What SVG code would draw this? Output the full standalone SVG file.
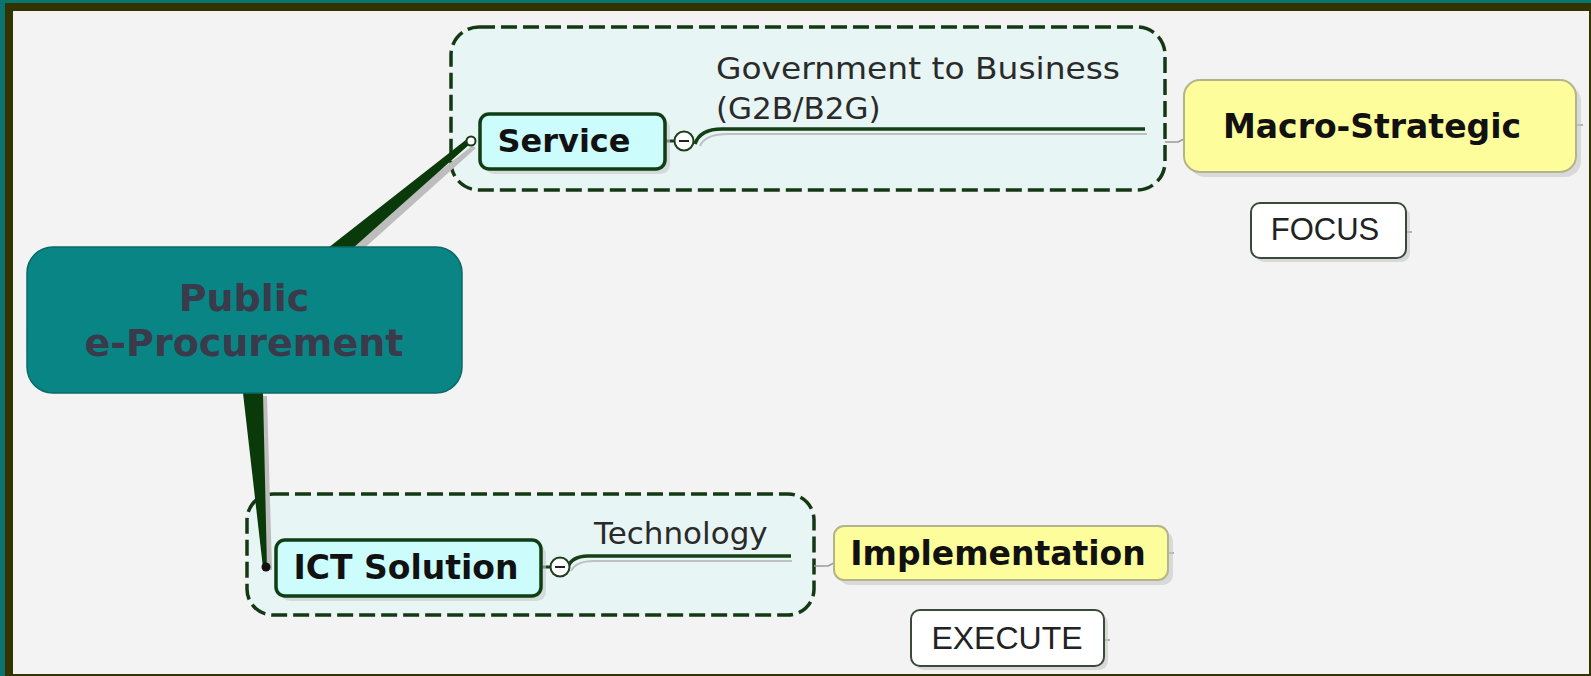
<svg xmlns="http://www.w3.org/2000/svg" width="1591" height="676" viewBox="0 0 1591 676">
<style>
.bold{font-family:"DejaVu Sans",Verdana,sans-serif;font-weight:bold;fill:#111111}
.reg{font-family:"DejaVu Sans",Verdana,sans-serif;fill:#2a2a2a}
.ar{font-family:"Liberation Sans",Arial,sans-serif;fill:#222222}
.grp{fill:#e7f5f5;stroke:#143814;stroke-width:3.5;stroke-dasharray:16 6}
.topic{fill:#ccfcfc;stroke:#0f3d14;stroke-width:3.5}
.yel{fill:#fdfd9b;stroke:#b4b48c;stroke-width:2}
.wh{fill:#ffffff;stroke:#3a4a3a;stroke-width:2}
.shadow{fill:#c8c8c8;opacity:0.6}
.thin{fill:none;stroke:#9a9a9a;stroke-width:1.5}
.branch{fill:none;stroke:#154015;stroke-width:3.5}
.bshadow{fill:none;stroke:#c0c0c0;stroke-width:2}
.minus{fill:#ffffff;stroke:#1e3e1e;stroke-width:2}
</style>
<rect x="0" y="0" width="1591" height="676" fill="#0a7470"/>
<rect x="5" y="3" width="1586" height="673" fill="#333300"/>
<rect x="13" y="11" width="1576" height="663" fill="#f3f3f3"/>

<g id="group-service">
<rect class="grp" x="451" y="27" width="714" height="163" rx="28"/>
</g>
<g id="group-ict">
<rect class="grp" x="247" y="494" width="567" height="121" rx="26"/>
</g>

<g id="connectors">
<polygon points="334,252 360,252 476,148 472,146" fill="#bdbdbd"/>
<polygon points="328,248 353,248 471,143 467,139" fill="#0a3a0a"/>
<polygon points="248,396 267,396 272,570 268,570" fill="#bdbdbd"/>
<polygon points="243,393 263,393 267,568 263,568" fill="#0a3a0a"/>
<circle cx="471" cy="141" r="4.5" fill="#ffffff" stroke="#1a3a1a" stroke-width="2"/>
<circle cx="266" cy="567" r="4.5" fill="#111111"/>
<line x1="665" y1="141" x2="674" y2="141" stroke="#1e3e1e" stroke-width="3"/>
<path class="bshadow" d="M700,146 Q705,134 728,134 L1147,134"/>
<path class="branch" d="M695,144 Q700,129 722,129 L1145,129"/>
<line x1="541" y1="567" x2="550" y2="567" stroke="#1e3e1e" stroke-width="3"/>
<path class="bshadow" d="M571,571 Q576,561 594,561 L792,561"/>
<path class="branch" d="M567,569 Q571,556 588,556 L791,556"/>
<path class="thin" d="M1165,142 L1178,142 L1184,139"/>
<path class="thin" d="M814,566 L828,566 L834,563"/>
<path class="thin" d="M1576,125 L1583,125"/>
<path class="thin" d="M1406,232 L1412,232"/>
<path class="thin" d="M1104,640 L1110,640"/>
<path class="thin" d="M1168,553 L1174,553"/>
</g>

<g id="node-public">
<rect x="27" y="247" width="435" height="146" rx="26" fill="#098585" stroke="#0a6a66" stroke-width="1.5"/>
<text class="bold" x="244" y="311" font-size="38" text-anchor="middle" style="fill:#3a3a4a">Public</text>
<text class="bold" x="244" y="356" font-size="38" text-anchor="middle" style="fill:#3a3a4a">e-Procurement</text>
</g>

<g id="node-service">
<rect class="shadow" x="485" y="119" width="185" height="55" rx="9"/>
<rect class="topic" x="480" y="114" width="185" height="55" rx="9"/>
<text class="bold" x="564" y="152" font-size="32" text-anchor="middle">Service</text>
<circle class="minus" cx="684" cy="141" r="9.5"/>
<line x1="679" y1="141" x2="689" y2="141" stroke="#222" stroke-width="2"/>
</g>

<g id="node-g2b">
<text class="reg" x="716" y="79" font-size="31" textLength="404" lengthAdjust="spacingAndGlyphs">Government to Business</text>
<text class="reg" x="716" y="119" font-size="31">(G2B/B2G)</text>
</g>

<g id="node-macro">
<rect class="shadow" x="1189" y="85" width="392" height="92" rx="16"/>
<rect class="yel" x="1184" y="80" width="392" height="92" rx="16"/>
<text class="bold" x="1372" y="138" font-size="33" text-anchor="middle">Macro-Strategic</text>
</g>

<g id="node-focus">
<rect class="shadow" x="1255" y="207" width="155" height="55" rx="9"/>
<rect class="wh" x="1251" y="203" width="155" height="55" rx="9"/>
<text class="ar" x="1325" y="240" font-size="31" text-anchor="middle">FOCUS</text>
</g>

<g id="node-ict">
<rect class="shadow" x="281" y="545" width="265" height="56" rx="9"/>
<rect class="topic" x="276" y="540" width="265" height="56" rx="9"/>
<text class="bold" x="406" y="579" font-size="33" text-anchor="middle">ICT Solution</text>
<circle class="minus" cx="560" cy="567" r="9.5"/>
<line x1="555" y1="567" x2="565" y2="567" stroke="#222" stroke-width="2"/>
</g>

<g id="node-technology">
<text class="reg" x="594" y="544" font-size="31">Technology</text>
</g>

<g id="node-implementation">
<rect class="shadow" x="839" y="531" width="334" height="54" rx="10"/>
<rect class="yel" x="834" y="526" width="334" height="54" rx="10"/>
<text class="bold" x="998" y="565" font-size="33" text-anchor="middle">Implementation</text>
</g>

<g id="node-execute">
<rect class="shadow" x="915" y="614" width="193" height="56" rx="9"/>
<rect class="wh" x="911" y="610" width="193" height="56" rx="9"/>
<text class="ar" x="1007" y="649" font-size="32" text-anchor="middle">EXECUTE</text>
</g>
</svg>
